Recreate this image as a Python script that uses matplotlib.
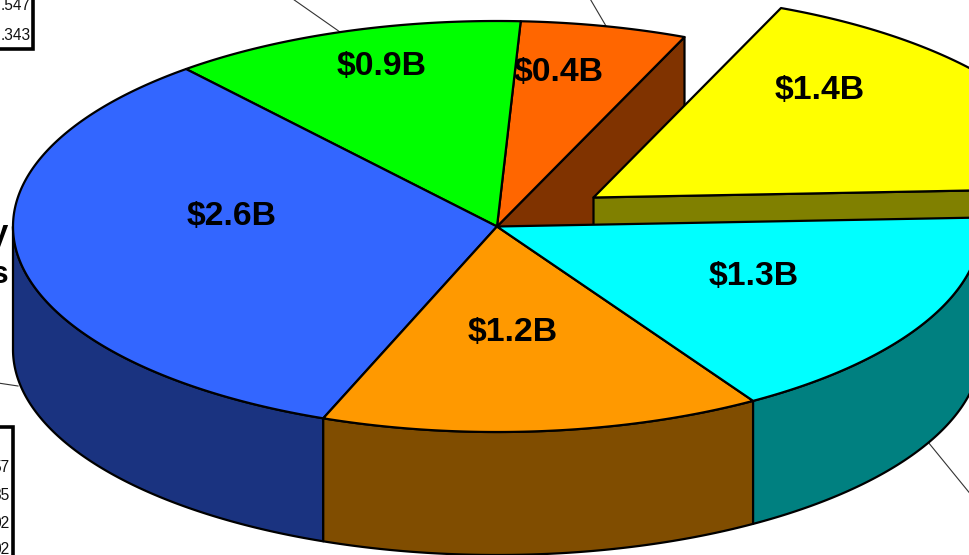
import numpy as np
import matplotlib
matplotlib.use("Agg")
import matplotlib.pyplot as plt

plt.rcParams['font.family'] = ['Liberation Sans', 'DejaVu Sans']

# Data: slices counter-clockwise, starting at the cyan slice's upper edge
names = ['yellow', 'red', 'green', 'blue', 'orange', 'cyan']
values = [1.402, 0.433, 0.927, 2.578, 1.148, 1.312]
labels = ['$1.4B', '$0.4B', '$0.9B', '$2.6B', '$1.2B', '$1.3B']
top_colors = ['#FFFF00', '#FF6600', '#00FF00', '#3366FF', '#FF9900', '#00FFFF']
side_colors = ['#808000', '#803300', '#008000', '#1A3380', '#804D00', '#008080']

# Layout (pixels)
CX, CY, RX, RY, DEPTH = 497.0, 226.5, 484.0, 205.5, 123.0
START = 2.5
EXPLODE = {'yellow': (96.5, -29.0)}
LABEL_XY = [(820, 90), (559, 73), (382, 66), (232, 216), (513, 332), (754, 277)]
LW = 1.6
LEADERS = [((290, -3), (340, 32)), ((589, -3), (606, 26)),
           ((-2, 383), (18, 386)), ((928, 442), (972, 496))]

fig = plt.figure(figsize=(9.7, 5.55), dpi=100)
ax = fig.add_axes([0, 0, 1, 1])
ax.set_xlim(0, 970)
ax.set_ylim(555, 0)
ax.axis('off')

fr = np.array(values) / np.sum(values)
edges = START + 360 * np.concatenate([[0], np.cumsum(fr)])


def arc(a0, a1, off=(0, 0), dz=0.0):
    t = np.radians(np.linspace(a0, a1, 200))
    return CX + off[0] + RX * np.cos(t), CY + off[1] + dz - RY * np.sin(t)


def pt(a, off=(0, 0)):
    t = np.radians(a)
    return CX + off[0] + RX * np.cos(t), CY + off[1] - RY * np.sin(t)


def poly(x, y, c, z):
    ax.fill(x, y, facecolor=c, edgecolor='black', lw=LW, joinstyle='round', zorder=z)


def radial_wall(a, off, c, z):
    x, y = pt(a, off)
    ax_, ay_ = CX + off[0], CY + off[1]
    poly([ax_, x, x, ax_], [ay_, y, y + DEPTH, ay_ + DEPTH], c, z)


def top(a0, a1, off, c, z):
    x, y = arc(a0, a1, off)
    poly(np.r_[CX + off[0], x], np.r_[CY + off[1], y], c, z)


def front(a0, a1, c, z):
    a0c, a1c = max(a0, 180), min(a1, 360 + 30)
    if a1c <= a0c:
        return
    x0, y0 = arc(a0c, a1c)
    x1, y1 = arc(a1c, a0c, dz=DEPTH)
    poly(np.r_[x0, x1], np.r_[y0, y1], c, z)


# Thin leader lines
for (p0, p1) in LEADERS:
    ax.plot([p0[0], p1[0]], [p0[1], p1[1]], color='#333333', lw=0.8, zorder=1)

# Rear walls visible inside the pie's gap
radial_wall(edges[1], (0, 0), side_colors[1], 2)
radial_wall(edges[0], EXPLODE['yellow'], side_colors[0], 3)
top(edges[0], edges[1], EXPLODE['yellow'], top_colors[0], 4)

# Front walls and top faces of the pie proper
for i, n in enumerate(names):
    if n == 'yellow':
        continue
    front(edges[i], edges[i + 1], side_colors[i], 5)
for i, n in enumerate(names):
    if n == 'yellow':
        continue
    top(edges[i], edges[i + 1], (0, 0), top_colors[i], 6)

# Slice labels
for (lx, ly), s in zip(LABEL_XY, labels):
    ax.text(lx, ly, s.replace('$', r'\$'), ha='center', va='center',
            fontsize=24.3, fontweight='bold', color='black', zorder=8)

# Cropped neighbours at the left border
box1 = plt.Rectangle((-10, -10), 43, 59, facecolor='white', edgecolor='black', lw=2.6, zorder=7)
box2 = plt.Rectangle((-10, 427), 23.5, 150, facecolor='white', edgecolor='black', lw=2.6, zorder=7)
ax.add_patch(box1)
ax.add_patch(box2)
for s, y in zip(['.547', '.343'], [5, 35]):
    ax.text(30.5, y, s, ha='right', va='center', fontsize=11.2, color='#111111', zorder=8)
for s, y in zip(['57', '35', '02', '02'], [468, 496, 523, 550]):
    ax.text(9.5, y, s, ha='right', va='center', fontsize=11.2, color='#111111', zorder=8)
ax.text(8, 247, 'V', ha='right', va='baseline', fontsize=23, fontweight='bold', zorder=8)
ax.text(8.5, 283, 's', ha='right', va='baseline', fontsize=23, fontweight='bold', zorder=8)

fig.savefig('out.png', dpi=100)
